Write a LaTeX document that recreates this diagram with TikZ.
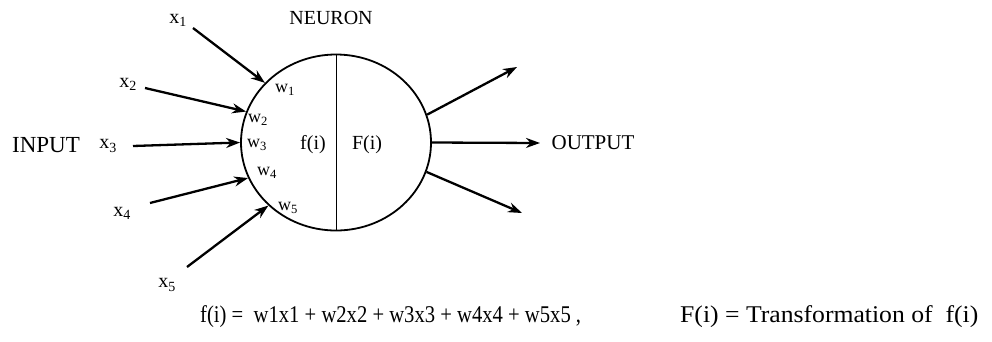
\documentclass[tikz,border=0pt]{standalone}
\usepackage{fontspec}
\usepackage{graphicx}
\setmainfont{Liberation Serif}
\usetikzlibrary{arrows.meta,shapes.geometric}
\tikzset{
  conn/.style={line width=2.3pt,-{Stealth[length=14pt,width=10pt]}},
  lbl/.style={inner sep=0pt,font=\fontsize{20}{22}\selectfont},
  wlbl/.style={inner sep=0pt,font=\fontsize{18}{20}\selectfont},
  big/.style={inner sep=0pt,font=\fontsize{24}{28}\selectfont},
}
\begin{document}
\begin{tikzpicture}[x=1pt,y=-1pt]
\useasboundingbox (0,0) rectangle (992,341);
\node[draw,ellipse,line width=1.8pt,minimum width=190pt,minimum height=176pt,inner sep=0pt] (neuron) at (336,142.5) {};
\draw[line width=1pt] (neuron.north) -- (neuron.south);
\node[lbl] (title) at (331,18) {NEURON};
\node[lbl,font=\fontsize{23}{25}\selectfont] (input) at (46,145) {INPUT};
\node[lbl,font=\fontsize{21}{23}\selectfont] (output) at (593,143) {OUTPUT};
\node[lbl] (x1) at (178,20) {x\textsubscript{1}};
\node[lbl] (x2) at (128,84) {x\textsubscript{2}};
\node[lbl] (x3) at (108,146) {x\textsubscript{3}};
\node[lbl] (x4) at (122,213) {x\textsubscript{4}};
\node[lbl] (x5) at (167,285) {x\textsubscript{5}};
\node[wlbl] (w1) at (285,90) {w\textsubscript{1}};
\node[wlbl] (w2) at (258,120) {w\textsubscript{2}};
\node[wlbl] (w3) at (257,145) {w\textsubscript{3}};
\node[wlbl] (w4) at (267,173) {w\textsubscript{4}};
\node[wlbl] (w5) at (288,208) {w\textsubscript{5}};
\node[lbl] (fi) at (313,145) {f(i)};
\node[lbl] (Fi) at (367,145) {F(i)};
\coordinate (s1) at (193,28);
\coordinate (s2) at (145,88);
\coordinate (s3) at (133,146);
\coordinate (s4) at (150,203);
\coordinate (s5) at (187,267);
\coordinate (o1) at (517,67);
\coordinate (o2) at (540,143);
\coordinate (o3) at (522,213);
\draw[conn] (s1) -- (neuron.140);
\draw[conn] (s2) -- (neuron.161);
\draw[conn] (s3) -- (neuron.180);
\draw[conn] (s4) -- (neuron.202);
\draw[conn] (s5) -- (neuron.223);
\draw[conn] (neuron.17) -- (o1);
\draw[conn] (neuron.0) -- (o2);
\draw[conn] (neuron.-18) -- (o3);
\node[big,anchor=west] (eq) at (200,317) {\scalebox{0.86}[1]{f(i) =\ \ w1x1 + w2x2 + w3x3 + w4x4 + w5x5 ,}};
\node[big,anchor=west] (tr) at (680,317) {\scalebox{1.07}[1]{F(i) = Transformation of\ \ f(i)}};
\end{tikzpicture}
\end{document}
